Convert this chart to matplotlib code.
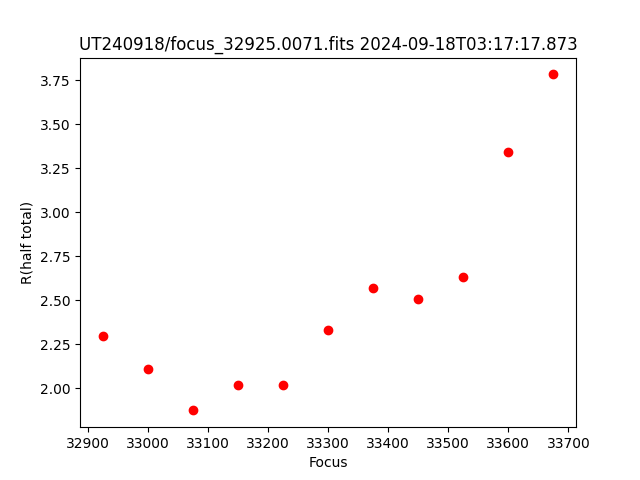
import matplotlib
matplotlib.use("Agg")
import matplotlib.pyplot as plt

# focus positions and half-total radius
focus = [32925, 33000, 33075, 33150, 33225, 33300, 33375, 33450, 33525, 33600, 33675]
r_half = [2.30, 2.113, 1.875, 2.017, 2.017, 2.33, 2.568, 2.506, 2.631, 3.341, 3.784]

fig = plt.figure(figsize=(6.4, 4.8), dpi=100)
plt.plot(focus, r_half, 'o', color='red')
plt.title("UT240918/focus_32925.0071.fits 2024-09-18T03:17:17.873")
plt.xlabel("Focus")
plt.ylabel("R(half total)")
plt.savefig("out.png")
